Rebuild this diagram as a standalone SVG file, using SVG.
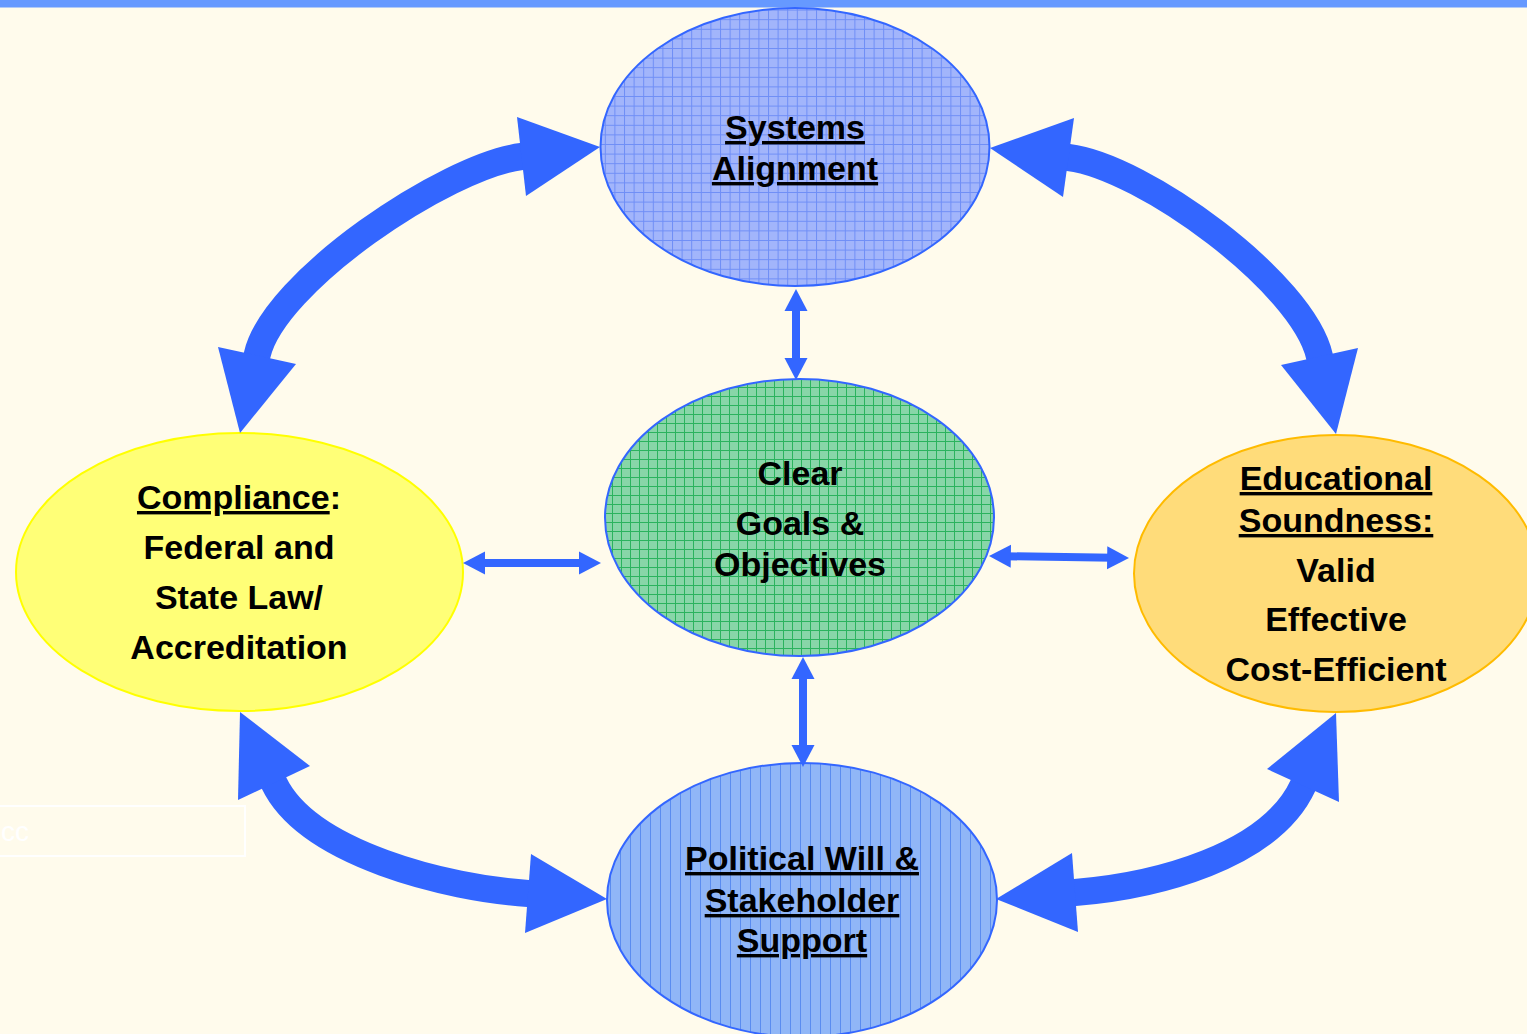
<svg xmlns="http://www.w3.org/2000/svg" width="1527" height="1034" viewBox="0 0 1527 1034">
  <defs>
    <style>
      .lbl { font-family: "Liberation Sans", Arial, sans-serif; font-weight: bold; font-size: 34px; fill: #000; text-anchor: middle; }
      .ul { text-decoration: underline; }
      .shaft { fill: none; stroke: #3366ff; stroke-width: 27; stroke-linecap: butt; }
      .head { fill: #3366ff; }
      .thin { stroke: #3366ff; stroke-width: 8; }
      .node-blue { stroke: #3366ff; stroke-width: 2; }
    </style>
    <!-- fine grid fill for the top node -->
    <pattern id="gridBlue" width="9.6" height="9.6" patternUnits="userSpaceOnUse">
      <rect width="9.6" height="9.6" fill="#a2b5fb"/>
      <path d="M0,0.5 H9.6 M0.5,0 V9.6" stroke="#6f8ef6" stroke-width="1"/>
    </pattern>
    <!-- green grid fill for the centre node -->
    <pattern id="gridGreen" width="9" height="9" patternUnits="userSpaceOnUse">
      <rect width="9" height="9" fill="#88d6a8"/>
      <path d="M0,0.5 H9 M0.5,0 V9" stroke="#2bb35e" stroke-width="1"/>
    </pattern>
    <!-- vertical stripes for the bottom node -->
    <pattern id="stripes" width="10" height="10" patternUnits="userSpaceOnUse">
      <rect width="10" height="10" fill="#90b6f7"/>
      <path d="M0.5,0 V10" stroke="#5a8cf0" stroke-width="1"/>
    </pattern>
  </defs>

  <!-- page -->
  <rect x="0" y="0" width="1527" height="1034" fill="#fffbec"/>
  <rect x="0" y="0" width="1527" height="7.5" fill="#6699ff"/>

  <!-- faint leftover text box -->
  <g id="stray-box">
    <rect x="-10" y="806" width="255" height="50" fill="none" stroke="#ffffff" stroke-width="2"/>
    <text x="1" y="841" font-family="Liberation Sans, Arial, sans-serif" font-size="28" fill="#ffffff">cc</text>
  </g>

  <!-- nodes -->
  <g id="node-systems">
    <ellipse cx="795" cy="147" rx="194.5" ry="139" fill="url(#gridBlue)" class="node-blue"/>
    <text class="lbl" x="795" y="139"><tspan class="ul">Systems</tspan></text>
    <text class="lbl" x="795" y="180"><tspan class="ul">Alignment</tspan></text>
  </g>

  <g id="node-goals">
    <ellipse cx="799.5" cy="517.5" rx="194.5" ry="138.5" fill="url(#gridGreen)" class="node-blue"/>
    <text class="lbl" x="800" y="485">Clear</text>
    <text class="lbl" x="800" y="535">Goals &amp;</text>
    <text class="lbl" x="800" y="576">Objectives</text>
  </g>

  <g id="node-political">
    <ellipse cx="802" cy="900" rx="195" ry="137" fill="url(#stripes)" class="node-blue"/>
    <text class="lbl" x="802" y="870"><tspan class="ul">Political Will &amp;</tspan></text>
    <text class="lbl" x="802" y="912"><tspan class="ul">Stakeholder</tspan></text>
    <text class="lbl" x="802" y="952"><tspan class="ul">Support</tspan></text>
  </g>

  <g id="node-compliance">
    <ellipse cx="239.5" cy="572" rx="223.5" ry="139" fill="#ffff77" stroke="#ffff00" stroke-width="2"/>
    <text class="lbl" x="239" y="509"><tspan class="ul">Compliance</tspan>:</text>
    <text class="lbl" x="239" y="559">Federal and</text>
    <text class="lbl" x="239" y="609">State Law/</text>
    <text class="lbl" x="239" y="659">Accreditation</text>
  </g>

  <g id="node-educational">
    <ellipse cx="1336" cy="573.5" rx="202" ry="138.5" fill="#ffdc7a" stroke="#ffbb00" stroke-width="2"/>
    <text class="lbl" x="1336" y="490"><tspan class="ul">Educational</tspan></text>
    <text class="lbl" x="1336" y="532"><tspan class="ul">Soundness:</tspan></text>
    <text class="lbl" x="1336" y="582">Valid</text>
    <text class="lbl" x="1336" y="631">Effective</text>
    <text class="lbl" x="1336" y="681">Cost-Efficient</text>
  </g>

  <!-- connectors -->
  <g id="connectors">
    <!-- outer ring: curved double-headed arrows -->
    <g id="arc-systems-compliance">
      <path class="shaft" d="M536.4,154.7 L521.5,156.5 C447,165.5 273,282 257,355.5 L253.8,370.2"/>
      <polygon class="head" points="600,147 517,117 526,196"/>
      <polygon class="head" points="240,433 218,347 296,364"/>
    </g>
    <g id="arc-systems-educational">
      <path class="shaft" d="M1053.6,155.7 L1068.5,157.5 C1143,166.5 1303,283 1319.5,356.5 L1322.6,371.2"/>
      <polygon class="head" points="990,148 1074,118 1063,197"/>
      <polygon class="head" points="1336,434 1281,365 1358,348"/>
    </g>
    <g id="arc-compliance-political">
      <path class="shaft" d="M267.5,769.5 L274,783 C308,854 448,888 528,893.5 L543,894.5"/>
      <polygon class="head" points="240,712 310,766 238,800"/>
      <polygon class="head" points="607,899 531,854 525,933"/>
    </g>
    <g id="arc-educational-political">
      <path class="shaft" d="M1309.2,771.9 L1303,785.5 C1270,857 1155,886 1075,892.5 L1060,893.7"/>
      <polygon class="head" points="1336,713 1267,769 1339,802"/>
      <polygon class="head" points="996,899 1072,853 1078,932"/>
    </g>

    <!-- inner spokes: straight double-headed arrows -->
    <g id="spoke-top">
      <line class="thin" x1="796" y1="305" x2="796" y2="365"/>
      <polygon class="head" points="796,289 807.5,311 784.5,311"/>
      <polygon class="head" points="796,380 807.5,358 784.5,358"/>
    </g>
    <g id="spoke-bottom">
      <line class="thin" x1="803" y1="672" x2="803" y2="752"/>
      <polygon class="head" points="803,657 814.5,679 791.5,679"/>
      <polygon class="head" points="803,767 814.5,745 791.5,745"/>
    </g>
    <g id="spoke-left">
      <line class="thin" x1="478" y1="563" x2="586" y2="563"/>
      <polygon class="head" points="463,563 485,551.5 485,574.5"/>
      <polygon class="head" points="601,563 579,551.5 579,574.5"/>
    </g>
    <g id="spoke-right">
      <line class="thin" x1="1004" y1="556.2" x2="1114" y2="557.8"/>
      <polygon class="head" points="989,556 1011,544.8 1010.7,567.8"/>
      <polygon class="head" points="1129,558 1107,569.2 1107.3,546.2"/>
    </g>
  </g>
</svg>
